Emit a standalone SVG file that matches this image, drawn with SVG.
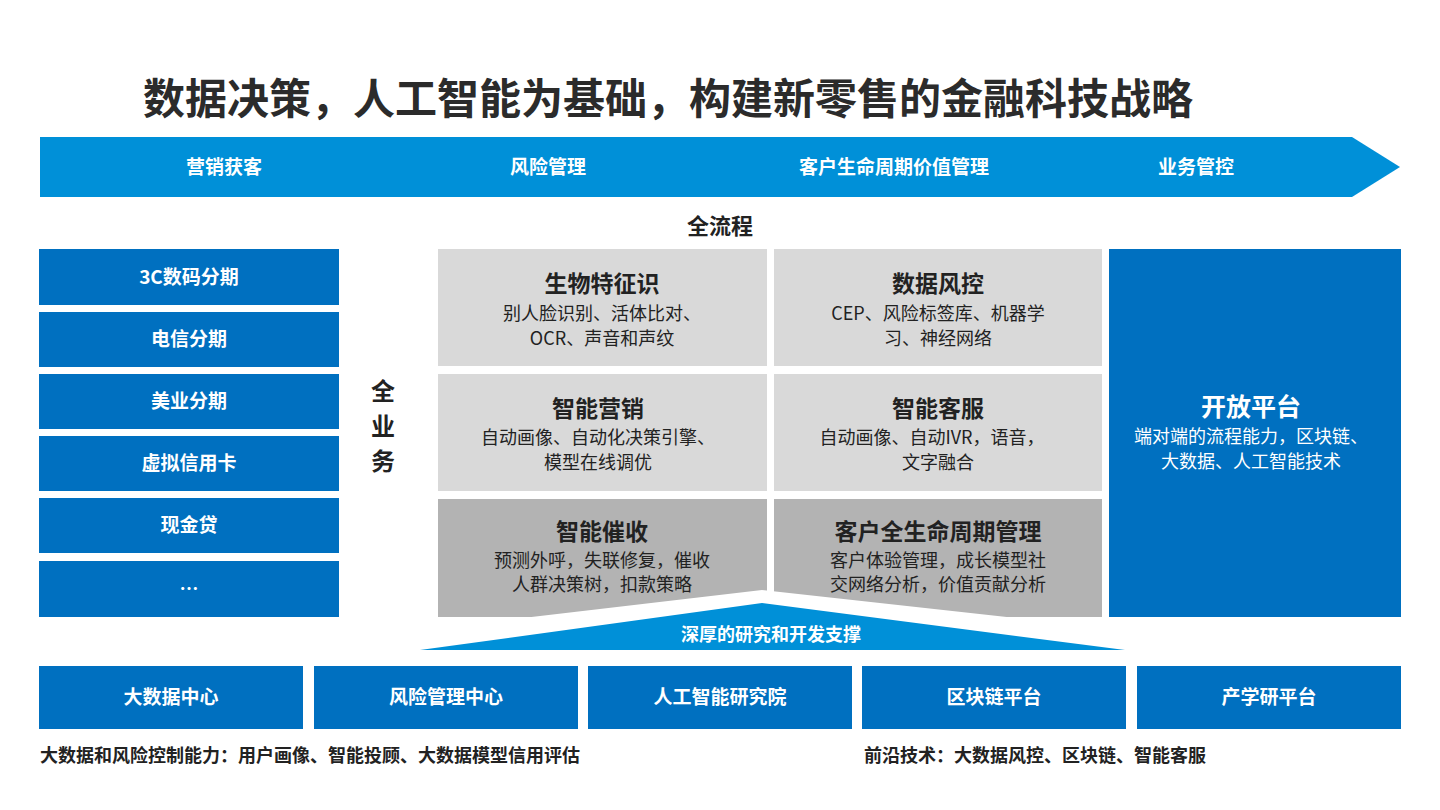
<svg xmlns="http://www.w3.org/2000/svg" width="1440" height="810" viewBox="0 0 1440 810">
<style>
text{font-family:"Noto Sans CJK SC","Noto Sans",sans-serif;text-anchor:middle}
.w{fill:#fff;font-weight:bold;font-size:19px}
.b{fill:#0070c0}
.g{fill:#d9d9d9}
.g2{fill:#b3b3b3}
.h{fill:#222;font-weight:bold;font-size:23px}
.d{fill:#222;font-size:18px}
.k{fill:#222;font-weight:bold;font-size:18px;text-anchor:start}
</style>
<rect width="1440" height="810" fill="#fff"/>
<text x="668" y="114" style="font-size:42px;font-weight:bold;fill:#2b2b2b">数据决策，人工智能为基础，构建新零售的金融科技战略</text>
<g id="arrow">
<polygon points="40,137 1352,137 1400,167 1352,197 40,197" fill="#0090d8"/>
<text class="w" x="224" y="174">营销获客</text>
<text class="w" x="548" y="174">风险管理</text>
<text class="w" x="894" y="174">客户生命周期价值管理</text>
<text class="w" x="1196" y="174">业务管控</text>
</g>
<text x="720" y="234" style="font-size:22px;font-weight:bold;fill:#222">全流程</text>
<g id="left">
<rect class="b" x="39" y="249" width="300" height="56"/><text class="w" x="189" y="284">3C数码分期</text>
<rect class="b" x="39" y="312" width="300" height="55"/><text class="w" x="189" y="346">电信分期</text>
<rect class="b" x="39" y="374" width="300" height="55"/><text class="w" x="189" y="408">美业分期</text>
<rect class="b" x="39" y="436" width="300" height="55"/><text class="w" x="189" y="470">虚拟信用卡</text>
<rect class="b" x="39" y="498" width="300" height="55"/><text class="w" x="189" y="532">现金贷</text>
<rect class="b" x="39" y="561" width="300" height="56"/><text class="w" x="189" y="596">…</text>
</g>
<g id="quanyewu"><text x="383" y="400" style="font-size:24px;font-weight:bold;fill:#222">全</text><text x="383" y="435" style="font-size:24px;font-weight:bold;fill:#222">业</text><text x="383" y="470" style="font-size:24px;font-weight:bold;fill:#222">务</text></g>
<g id="n1"><rect class="g" x="438" y="249" width="329" height="117"/><text class="h" x="602" y="292">生物特征识</text><text class="d" x="602" y="320">别人脸识别、活体比对、</text><text class="d" x="602" y="345">OCR、声音和声纹</text></g>
<g id="n2"><rect class="g" x="774" y="249" width="328" height="117"/><text class="h" x="938" y="292">数据风控</text><text class="d" x="938" y="320">CEP、风险标签库、机器学</text><text class="d" x="938" y="345">习、神经网络</text></g>
<g id="n3"><rect class="g" x="438" y="374" width="329" height="117"/><text class="h" x="598" y="417">智能营销</text><text class="d" x="598" y="444">自动画像、自动化决策引擎、</text><text class="d" x="598" y="469">模型在线调优</text></g>
<g id="n4"><rect class="g" x="774" y="374" width="328" height="117"/><text class="h" x="938" y="417">智能客服</text><text class="d" x="932" y="444">自动画像、自动IVR，语音，</text><text class="d" x="938" y="469">文字融合</text></g>
<g id="n5"><rect class="g2" x="438" y="499" width="329" height="118"/><text class="h" x="602" y="540">智能催收</text><text class="d" x="602" y="567">预测外呼，失联修复，催收</text><text class="d" x="602" y="591">人群决策树，扣款策略</text></g>
<g id="n6"><rect class="g2" x="774" y="499" width="328" height="118"/><text class="h" x="938" y="540">客户全生命周期管理</text><text class="d" x="938" y="567">客户体验管理，成长模型社</text><text class="d" x="938" y="591">交网络分析，价值贡献分析</text></g>
<g id="open"><rect class="b" x="1109" y="249" width="292" height="368"/><text x="1251" y="416" style="font-size:25px;font-weight:bold;fill:#fff">开放平台</text><text x="1251" y="443" style="font-size:18px;fill:#fff">端对端的流程能力，区块链、</text><text x="1251" y="468" style="font-size:18px;fill:#fff">大数据、人工智能技术</text></g>
<g id="support">
<polygon points="420,630 762,590 1125,630 1125,640 420,640" fill="#fff"/>
<polygon points="420,650 762,603 1125,650" fill="#0090d8"/>
<text x="771" y="641" style="font-size:18px;font-weight:bold;fill:#fff">深厚的研究和开发支撑</text>
</g>
<g id="bottom">
<rect class="b" x="39" y="666" width="264" height="63"/><text class="w" x="171" y="704">大数据中心</text>
<rect class="b" x="314" y="666" width="264" height="63"/><text class="w" x="446" y="704">风险管理中心</text>
<rect class="b" x="588" y="666" width="264" height="63"/><text class="w" x="720" y="704">人工智能研究院</text>
<rect class="b" x="862" y="666" width="264" height="63"/><text class="w" x="994" y="704">区块链平台</text>
<rect class="b" x="1137" y="666" width="264" height="63"/><text class="w" x="1269" y="704">产学研平台</text>
</g>
<text class="k" x="40" y="762">大数据和风险控制能力：用户画像、智能投顾、大数据模型信用评估</text>
<text class="k" x="864" y="762">前沿技术：大数据风控、区块链、智能客服</text>
</svg>
